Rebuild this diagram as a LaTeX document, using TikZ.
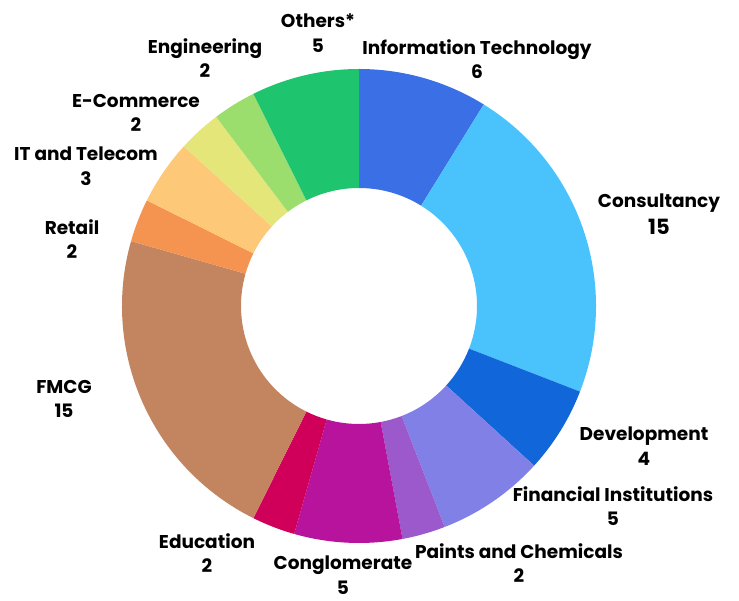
\documentclass[tikz,border=0pt]{standalone}
\usepackage{fontspec}
\setmainfont{Poppins}
\definecolor{infotech}{HTML}{3B6FE6}
\definecolor{consult}{HTML}{4AC3FD}
\definecolor{develop}{HTML}{1166DA}
\definecolor{finance}{HTML}{8080E6}
\definecolor{paints}{HTML}{9B59CC}
\definecolor{conglo}{HTML}{B8139C}
\definecolor{educ}{HTML}{D0005A}
\definecolor{fmcg}{HTML}{C28560}
\definecolor{retail}{HTML}{F59350}
\definecolor{telecom}{HTML}{FDC978}
\definecolor{ecomm}{HTML}{E5E67A}
\definecolor{engin}{HTML}{9CDE6E}
\definecolor{others}{HTML}{1EC46E}
\begin{document}
\begin{tikzpicture}[x=1pt,y=1pt,
    lbl/.style={font=\bfseries\fontsize{18.5}{24.5}\selectfont,align=center,inner sep=0pt}]
    \useasboundingbox (0,0) rectangle (739,600);
    \coordinate (O) at (359,294);
    \def\Ro{237}
    \def\Ri{118}
    % ring segments, start/end in units of 68
    \foreach \a/\b/\col in {0/6/infotech,6/21/consult,21/25/develop,25/30/finance,
        30/32/paints,32/37/conglo,37/39/educ,39/54/fmcg,54/56/retail,
        56/59/telecom,59/61/ecomm,61/63/engin,63/68/others}{
        \pgfmathsetmacro{\ta}{90-\a/68*360}
        \pgfmathsetmacro{\tb}{90-\b/68*360}
        \fill[\col] (O) ++(\ta:\Ro) arc[start angle=\ta,end angle=\tb,radius=\Ro]
            -- ++(\tb+180:\Ro-\Ri) arc[start angle=\tb,end angle=\ta,radius=\Ri] -- cycle;
    }
    % labels
    \node[lbl] (lothers) at (318,567) {Others*\\5};
    \node[lbl] (lengin) at (205,542) {Engineering\\2};
    \node[lbl] (lecomm) at (136,487) {E-Commerce\\2};
    \node[lbl] (ltelecom) at (86,434) {IT and Telecom\\3};
    \node[lbl] (lretail) at (72,361) {Retail\\2};
    \node[lbl] (lfmcg) at (64,201) {FMCG\\15};
    \node[lbl] (leduc) at (207,47) {Education\\2};
    \node[lbl] (lconglo) at (343,25) {Conglomerate\\5};
    \node[lbl] (lpaints) at (519,37) {Paints and Chemicals\\2};
    \node[lbl] (lfinance) at (613,94) {Financial Institutions\\5};
    \node[lbl] (ldevelop) at (644,154) {Development\\4};
    \node[lbl] (lconsult) at (659,386) {Consultancy\\[2pt]{\fontsize{21}{24}\selectfont 15}};
    \node[lbl] (linfotech) at (477,541) {Information Technology\\6};
\end{tikzpicture}
\end{document}
